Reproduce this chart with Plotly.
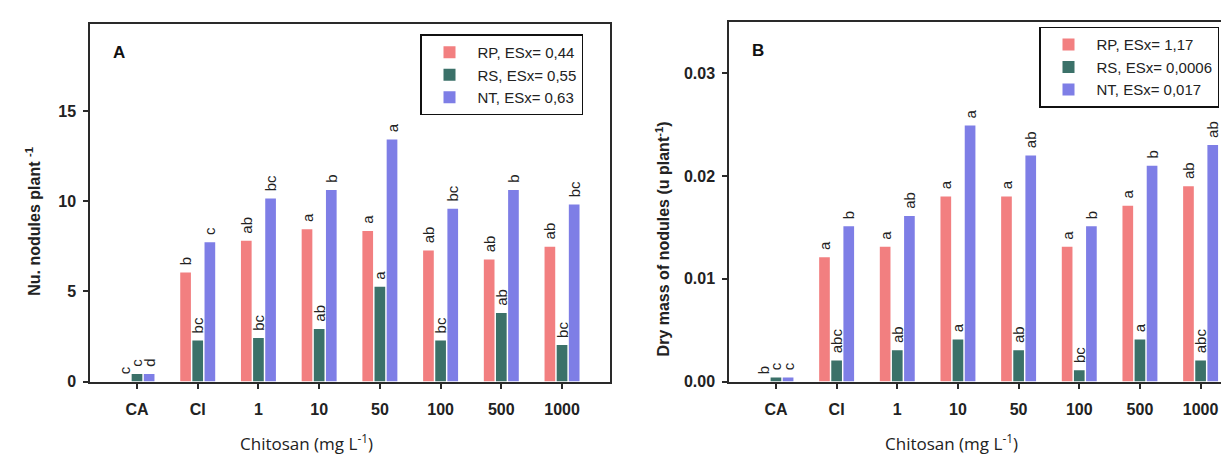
import plotly.graph_objects as go

W, H = 1229, 460

categories = ["CA", "CI", "1", "10", "50", "100", "500", "1000"]

# Panel A: number of nodules per plant
a_rp = [0.0, 6.05, 7.8, 8.45, 8.35, 7.27, 6.77, 7.48]
a_rs = [0.42, 2.27, 2.42, 2.92, 5.25, 2.27, 3.8, 2.02]
a_nt = [0.42, 7.72, 10.15, 10.62, 13.42, 9.58, 10.62, 9.82]
a_rp_let = ["c", "b", "ab", "a", "a", "ab", "ab", "ab"]
a_rs_let = ["c", "bc", "bc", "ab", "a", "bc", "ab", "bc"]
a_nt_let = ["d", "c", "bc", "b", "a", "bc", "b", "bc"]
a_names = ["RP, ESx= 0,44", "RS, ESx= 0,55", "NT, ESx= 0,63"]

# Panel B: dry mass of nodules
b_rp = [0.0, 0.0121, 0.0131, 0.018, 0.018, 0.0131, 0.0171, 0.019]
b_rs = [0.0004, 0.00205, 0.00305, 0.0041, 0.00305, 0.0011, 0.0041, 0.00205]
b_nt = [0.0004, 0.0151, 0.0161, 0.0249, 0.022, 0.0151, 0.021, 0.023]
b_rp_let = ["b", "a", "a", "a", "a", "a", "a", "ab"]
b_rs_let = ["c", "abc", "ab", "a", "ab", "bc", "a", "abc"]
b_nt_let = ["c", "b", "ab", "a", "ab", "b", "b", "ab"]
b_names = ["RP, ESx= 1,17", "RS, ESx= 0,0006", "NT, ESx= 0,017"]

colors = ["#F27F80", "#3B7169", "#7E7EE6"]

fig = go.Figure()

def add_panel(vals, lets, names, xa, ya, leg):
    for v, t, n, c in zip(vals, lets, names, colors):
        fig.add_trace(go.Bar(
            x=categories, y=v, name=n, text=t, texttemplate=" %{text}",
            marker_color=c, marker_line_width=0,
            textposition="outside", textangle=-90,
            textfont=dict(family="Liberation Sans, Arial", size=15, color="#222"),
            cliponaxis=False, constraintext="none",
            xaxis=xa, yaxis=ya, legend=leg, hoverinfo="skip",
        ))

add_panel([a_rp, a_rs, a_nt], [a_rp_let, a_rs_let, a_nt_let], a_names, "x", "y", "legend")
add_panel([b_rp, b_rs, b_nt], [b_rp_let, b_rs_let, b_nt_let], b_names, "x2", "y2", "legend2")

def px(x):
    return x / W

def py(y):
    return (H - y) / H

line_c = "#2a2a2a"
tickfont = dict(family="Liberation Sans, Arial", size=16, color="#222", weight="bold")
xcommon = dict(type="category", showline=True, linecolor=line_c, linewidth=1.5,
               ticks="outside", ticklen=6, tickcolor=line_c, tickwidth=1.5,
               tickfont=tickfont, ticklabelstandoff=7, showgrid=False,
               zeroline=False, mirror=True)
ycommon = dict(showline=True, linecolor=line_c, linewidth=1.5,
               ticks="outside", ticklen=5, tickcolor=line_c, tickwidth=1.5,
               tickfont=tickfont, ticklabelstandoff=4, showgrid=False,
               zeroline=False)

legfont = dict(family="Liberation Sans, Arial", size=15, color="#222")

fig.update_layout(
    width=W, height=H,
    margin=dict(l=0, r=0, t=0, b=0),
    paper_bgcolor="white", plot_bgcolor="white",
    barmode="group", bargap=0.4, bargroupgap=0.12,
    xaxis=dict(domain=[px(82), px(602)], range=[-0.774, 7.79], anchor="y", **xcommon),
    yaxis=dict(domain=[py(381), py(16)], range=[0, 19.84], anchor="x",
               tickvals=[0, 5, 10, 15], mirror=True, **ycommon),
    xaxis2=dict(domain=[px(721), 1.0], range=[-0.774, 7.6], anchor="y2", **xcommon),
    yaxis2=dict(domain=[py(381), py(14)], range=[0, 0.035], anchor="x2",
                tickvals=[0, 0.01, 0.02, 0.03], tickformat=".2f", mirror=False, **ycommon),
    legend=dict(x=px(412), y=py(27), xanchor="left", yanchor="top",
                bgcolor="white", bordercolor="#111", borderwidth=1.5,
                font=legfont, itemwidth=46, tracegroupgap=0),
    legend2=dict(x=px(1031), y=py(19), xanchor="left", yanchor="top",
                 bgcolor="white", bordercolor="#111", borderwidth=1.5,
                 font=legfont, itemwidth=46, tracegroupgap=0),
    showlegend=True,
)

ann_font_bold = dict(family="Liberation Sans, Arial", size=16, color="#222")
xt_font = dict(family="Open Sans, Lato", size=17, color="#222")

def ann(text, x, y, font, angle=0):
    fig.add_annotation(text=text, x=px(x), y=py(y), xref="paper", yref="paper",
                       xanchor="center", yanchor="middle", showarrow=False,
                       textangle=angle, font=font)

panel_font = dict(family="Liberation Sans, Arial", size=17, color="#111")
ann("<b>A</b>", 111, 45, panel_font)
ann("<b>B</b>", 750, 43, panel_font)
ann("<b>Nu. nodules plant <sup>-1</sup></b>", 25, 218, ann_font_bold, -90)
ann("<b>Dry mass of nodules (u plant<sup>-1</sup>)</b>", 655, 236, ann_font_bold, -90)
ann("Chitosan (mg L<sup>-1</sup>)", 298, 443, xt_font)
ann("Chitosan (mg L<sup>-1</sup>)", 944, 443, xt_font)

fig.write_html("out.html")
